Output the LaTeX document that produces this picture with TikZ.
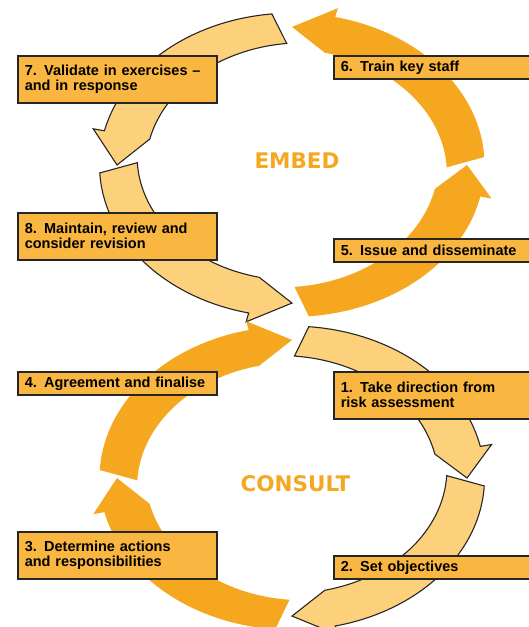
\documentclass[tikz,border=0pt]{standalone}
\usepackage{fontspec}
\setmainfont{Liberation Sans}
\newfontfamily\loopfont{DejaVu Sans}
\definecolor{loopdark}{HTML}{F5A81F}
\definecolor{looplight}{HTML}{FDD17C}
\definecolor{boxfill}{HTML}{F9B640}
% #1 style, #2 centre, #3 tail angle, #4 head base angle, #5 tip angle
\newcommand{\looparrow}[5]{%
  \begin{scope}[shift={#2},yscale=0.789]
    \path[#1] (#3:192.5) arc[start angle=#3,end angle=#4,radius=192.5]
      -- (#4:204) -- (#5:175) -- (#4:146)
      arc[start angle=#4,end angle=#3,radius=157.5] -- cycle;
  \end{scope}}
\begin{document}
\begin{tikzpicture}[x=1pt,y=1pt]
  \tikzstyle{light}=[fill=looplight,draw=black!85,line width=1.1pt]
  \tikzstyle{dark}=[fill=loopdark]
  \tikzstyle{phase}=[draw=black!85,line width=1.6pt,fill=boxfill,anchor=north west,
    inner xsep=7pt,inner ysep=0pt,align=left,text width=185pt,
    font=\fontsize{14.5}{15}\selectfont\bfseries]
  \tikzstyle{phase right}=[phase,text width=191pt]
  \tikzstyle{loopname}=[text=loopdark,font=\loopfont\fontsize{21.5}{22}\selectfont\bfseries]
  \useasboundingbox (0,0) rectangle (529,627);
  % embed loop
  \looparrow{light}{(292,462)}{96}{167}{180}
  \looparrow{light}{(292,462)}{183}{257}{270}
  \looparrow{dark}{(292,462)}{275}{348}{360}
  \looparrow{dark}{(292,462)}{3}{77}{90}
  % consult loop
  \looparrow{light}{(292,149)}{85}{12}{0}
  \looparrow{light}{(292,149)}{-3}{-77}{-90}
  \looparrow{dark}{(292,149)}{265}{193}{180}
  \looparrow{dark}{(292,149)}{177}{103}{90}
  % steps
  \node[phase,minimum height=47pt] (validate) at (17,572) {7. Validate in exercises --\\and in response};
  \node[phase right,minimum height=23pt] (train) at (333,572) {6. Train key staff};
  \node[phase,minimum height=47pt] (maintain) at (17,415) {8. Maintain, review and\\consider revision};
  \node[phase right,minimum height=23pt] (issue) at (333,389) {5. Issue and disseminate};
  \node[phase,minimum height=23pt] (agree) at (17,256) {4. Agreement and finalise};
  \node[phase right,minimum height=47pt] (direction) at (333,256) {1. Take direction from\\risk assessment};
  \node[phase,minimum height=47pt] (determine) at (17,96) {3. Determine actions\\and responsibilities};
  \node[phase right,minimum height=23pt] (objectives) at (333,72) {2. Set objectives};
  % loop names
  \node[loopname] (embed) at (297,466.5) {EMBED};
  \node[loopname] (consult) at (295.5,143) {CONSULT};
\end{tikzpicture}
\end{document}
